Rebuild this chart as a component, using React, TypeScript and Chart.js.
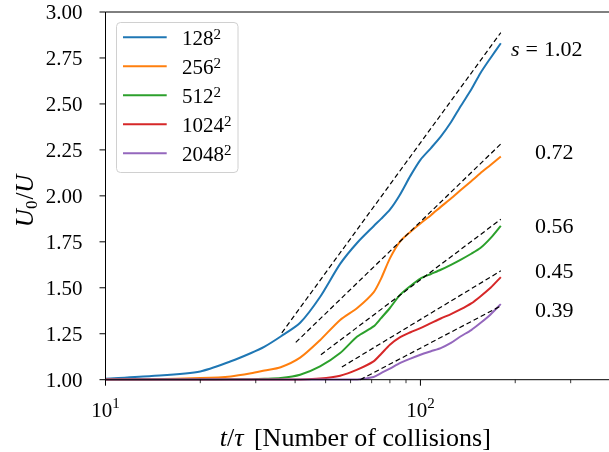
import { useEffect, useRef } from "react";
import { Chart, registerables } from "chart.js";

Chart.register(...registerables);

// Time in units of the mean collision time, shared by every run
const times = [10, 14, 20, 25, 29, 32, 36, 41.5, 48, 55.6, 63, 71, 75, 80, 86, 93, 100, 108, 116, 125, 134, 145, 155, 167, 180];

// U0/U for each grid resolution
const u128 = [1.005, 1.02, 1.045, 1.1, 1.145, 1.18, 1.235, 1.31, 1.45, 1.63, 1.745, 1.835, 1.875, 1.925, 2.005, 2.11, 2.196, 2.26, 2.322, 2.4, 2.486, 2.578, 2.667, 2.75, 2.83];
const u256 = [1.002, 1.003, 1.009, 1.018, 1.035, 1.05, 1.068, 1.12, 1.215, 1.325, 1.39, 1.475, 1.55, 1.66, 1.75, 1.805, 1.85, 1.895, 1.94, 1.985, 2.03, 2.08, 2.123, 2.168, 2.214];
const u512 = [1.001, 1.001, 1.001, 1.002, 1.003, 1.005, 1.009, 1.027, 1.072, 1.145, 1.235, 1.29, 1.335, 1.39, 1.46, 1.51, 1.55, 1.575, 1.598, 1.625, 1.652, 1.685, 1.716, 1.77, 1.837];
const u1024 = [1.001, 1.001, 1.001, 1.001, 1.001, 1.001, 1.001, 1.001, 1.006, 1.022, 1.055, 1.1, 1.14, 1.19, 1.23, 1.258, 1.281, 1.308, 1.333, 1.357, 1.382, 1.415, 1.453, 1.5, 1.558];
const u2048 = [1.001, 1.001, 1.001, 1.001, 1.001, 1.001, 1.001, 1.001, 1.001, 1.001, 1.001, 1.015, 1.036, 1.06, 1.09, 1.115, 1.136, 1.155, 1.172, 1.2, 1.235, 1.27, 1.308, 1.355, 1.411];

const resolutions = [128, 256, 512, 1024, 2048];
const curveValues = [u128, u256, u512, u1024, u2048];
const curveColors = ["#1f77b4", "#ff7f0e", "#2ca02c", "#d62728", "#9467bd"];

// Logarithmic growth fits: U0/U = u0 + s * ln(t / t0)
const fitSlopes = [1.02, 0.72, 0.56, 0.45, 0.39];
const fitStartT = [36.3, 40.2, 48.3, 56.3, 64.4];
const fitStartU = [1.255, 1.203, 1.136, 1.069, 1.0];
const fitEndT = 180;

const SERIF = '"Liberation Serif", "Times New Roman", serif';
const font = (size: number, italic = false) => `${italic ? "italic " : ""}${size}px ${SERIF}`;

type Run = { text: string; size: number; italic?: boolean; dy?: number; gap?: number };

function runsWidth(ctx: CanvasRenderingContext2D, runs: Run[]) {
  let w = 0;
  for (const r of runs) {
    ctx.font = font(r.size, r.italic);
    w += ctx.measureText(r.text).width + (r.gap || 0);
  }
  return w;
}

function drawRuns(ctx: CanvasRenderingContext2D, runs: Run[], x: number, y: number, align: "left" | "center" | "right") {
  const w = runsWidth(ctx, runs);
  let cx = align === "center" ? x - w / 2 : align === "right" ? x - w : x;
  ctx.textAlign = "left";
  ctx.textBaseline = "alphabetic";
  for (const r of runs) {
    ctx.font = font(r.size, r.italic);
    ctx.fillText(r.text, cx, y + (r.dy || 0));
    cx += ctx.measureText(r.text).width + (r.gap || 0);
  }
}

const decorations = {
  id: "decorations",
  afterDatasetsDraw(chart: any) {
    const { ctx, chartArea: a, scales } = chart;
    const xs = scales.x;
    const ys = scales.y;
    ctx.save();

    // spines: left, bottom, top
    ctx.strokeStyle = "#000";
    ctx.lineWidth = 1;
    ctx.beginPath();
    ctx.moveTo(a.right + 2, a.top);
    ctx.lineTo(a.left, a.top);
    ctx.lineTo(a.left, a.bottom);
    ctx.lineTo(a.right + 2, a.bottom);
    ctx.stroke();

    // x ticks: decades long, intermediate values short
    ctx.fillStyle = "#000";
    for (const tk of xs.ticks) {
      const v = tk.value;
      const e = Math.floor(Math.log10(v) + 1e-9);
      const sig = v / Math.pow(10, e);
      if (Math.abs(sig - Math.round(sig)) > 1e-6) continue;
      const major = Math.round(sig) === 1;
      const px = xs.getPixelForValue(v);
      ctx.lineWidth = major ? 1 : 0.8;
      ctx.beginPath();
      ctx.moveTo(px, a.bottom);
      ctx.lineTo(px, a.bottom + (major ? 6 : 3.5));
      ctx.stroke();
      if (major) {
        drawRuns(ctx, [
          { text: "10", size: 21 },
          { text: String(e), size: 15, dy: -8.5 },
        ], px, a.bottom + 37, "center");
      }
    }

    // y ticks and labels
    ctx.lineWidth = 1;
    for (const tk of ys.ticks) {
      const py = ys.getPixelForValue(tk.value);
      ctx.beginPath();
      ctx.moveTo(a.left - 6, py);
      ctx.lineTo(a.left, py);
      ctx.stroke();
      drawRuns(ctx, [{ text: Number(tk.value).toFixed(2), size: 21 }], a.left - 23, py + 7, "right");
    }

    // legend box
    const lx = 116.5, ly = 22.5, lw = 121.5, lh = 150;
    ctx.beginPath();
    if (ctx.roundRect) ctx.roundRect(lx, ly, lw, lh, 4);
    else ctx.rect(lx, ly, lw, lh);
    ctx.fillStyle = "rgba(255,255,255,0.85)";
    ctx.fill();
    ctx.strokeStyle = "#d0d0d0";
    ctx.lineWidth = 1;
    ctx.stroke();
    resolutions.forEach((n, i) => {
      const ry = 37.3 + i * 29;
      ctx.strokeStyle = curveColors[i];
      ctx.lineWidth = 2;
      ctx.beginPath();
      ctx.moveTo(123, ry);
      ctx.lineTo(166.7, ry);
      ctx.stroke();
      ctx.fillStyle = "#000";
      drawRuns(ctx, [
        { text: String(n), size: 21 },
        { text: "2", size: 15, dy: -6 },
      ], 182, ry + 7.5, "left");
    });

    // slope labels next to each fit line
    const labelT = [194, 231, 231, 231, 231];
    const labelU = [2.761, 2.199, 1.796, 1.552, 1.339];
    ctx.fillStyle = "#000";
    fitSlopes.forEach((s, i) => {
      const px = xs.getPixelForValue(labelT[i]);
      const py = ys.getPixelForValue(labelU[i]);
      const runs: Run[] = i === 0
        ? [
            { text: "s", size: 22, italic: true, gap: 6 },
            { text: "=", size: 22, gap: 6 },
            { text: s.toFixed(2), size: 22 },
          ]
        : [{ text: s.toFixed(2), size: 22 }];
      drawRuns(ctx, runs, px, py, "left");
    });

    // axis titles
    drawRuns(ctx, [
      { text: "t", size: 26, italic: true },
      { text: "/", size: 26 },
      { text: "τ", size: 26, italic: true, gap: 4 },
      { text: " [Number of collisions]", size: 26 },
    ], (a.left + a.right) / 2 - 2, 446, "center");

    ctx.translate(33, (a.top + a.bottom) / 2 + 5);
    ctx.rotate(-Math.PI / 2);
    drawRuns(ctx, [
      { text: "U", size: 25, italic: true },
      { text: "0", size: 17, dy: 4, gap: 1 },
      { text: "/", size: 25 },
      { text: "U", size: 25, italic: true },
    ], 0, 0, "center");

    ctx.restore();
  },
};

export default function App() {
  const canvasRef = useRef<HTMLCanvasElement | null>(null);

  useEffect(() => {
    document.body.style.margin = "0";
    const canvas = canvasRef.current;
    if (!canvas) return;

    const curveSets = curveValues.map((vals, i) => ({
      label: `${resolutions[i]}²`,
      data: times.map((t, j) => ({ x: t, y: vals[j] })),
      borderColor: curveColors[i],
      backgroundColor: curveColors[i],
      borderWidth: 2,
      pointRadius: 0,
      tension: 0.25,
      clip: 3,
      order: 10 - i,
    }));

    const fitSets = fitSlopes.map((s, i) => ({
      label: `fit s=${s}`,
      data: [
        { x: fitStartT[i], y: fitStartU[i] },
        { x: fitEndT, y: fitStartU[i] + s * Math.log(fitEndT / fitStartT[i]) },
      ],
      borderColor: "#000",
      borderWidth: 1.2,
      borderDash: [5, 3],
      pointRadius: 0,
      clip: 3,
      order: 1,
    }));

    const chart = new Chart(canvas, {
      type: "line",
      data: { datasets: [...curveSets, ...fitSets] as any },
      options: {
        animation: false,
        responsive: false,
        devicePixelRatio: 1,
        layout: { padding: { top: 12, right: 0, left: 0, bottom: 0 } },
        plugins: {
          legend: { display: false },
          tooltip: { enabled: false },
        },
        scales: {
          x: {
            type: "logarithmic",
            min: 10,
            max: 397,
            grid: { display: false },
            border: { display: false },
            ticks: { display: false },
            afterFit: (scale: any) => {
              scale.height = 452 - 379.7;
            },
          },
          y: {
            type: "linear",
            min: 1,
            max: 3,
            grid: { display: false },
            border: { display: false },
            ticks: { display: false, stepSize: 0.25 },
            afterFit: (scale: any) => {
              scale.width = 105.5;
            },
          },
        },
      },
      plugins: [decorations],
    });

    return () => chart.destroy();
  }, []);

  return (
    <div style={{ position: "absolute", left: 0, top: 0, width: 609, height: 452, background: "#fff" }}>
      <canvas ref={canvasRef} width={609} height={452} style={{ display: "block" }} />
    </div>
  );
}
